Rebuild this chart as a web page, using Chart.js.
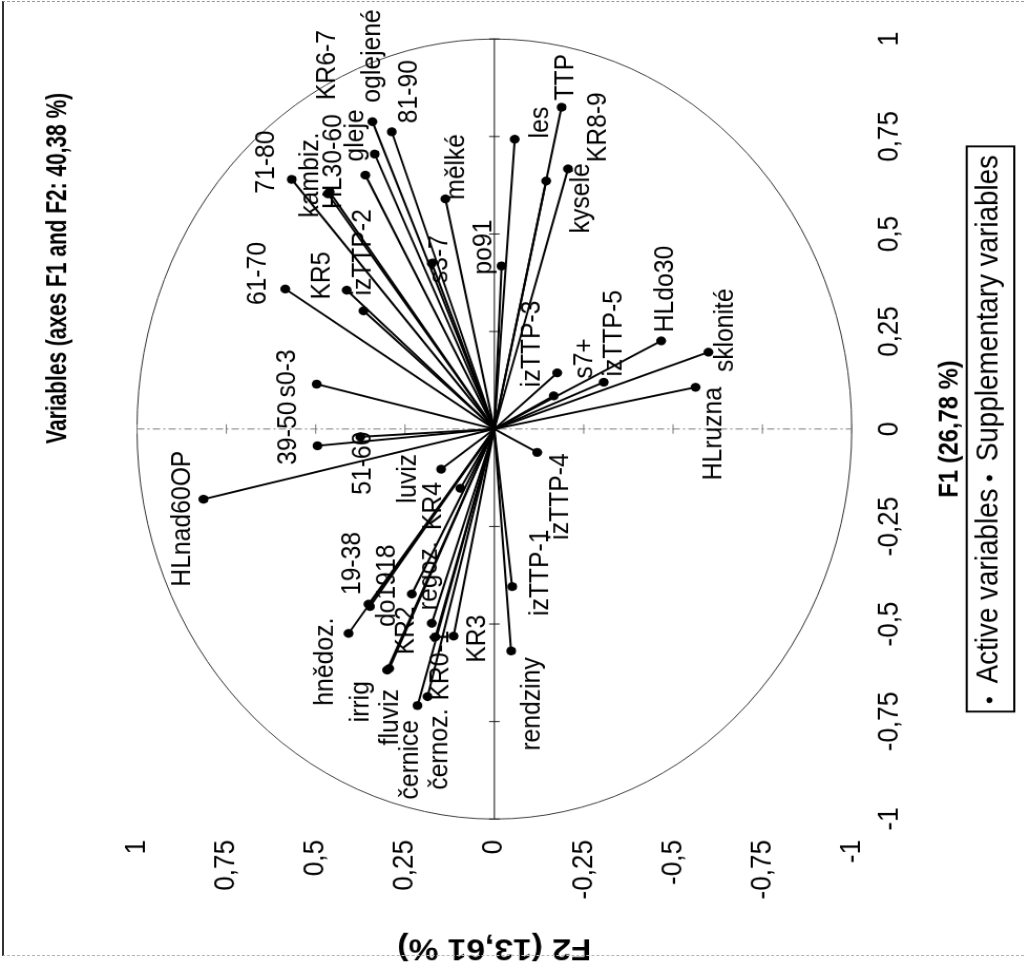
<!DOCTYPE html>
<html>
<head>
<meta charset="utf-8">
<script src="https://cdn.jsdelivr.net/npm/chart.js@4.4.1/dist/chart.umd.min.js"></script>
<style>
  html, body { margin: 0; padding: 0; background: #fff; }
  body { width: 1024px; height: 966px; overflow: hidden; position: relative; }
  /* the correlation circle is laid out landscape-style and turned a quarter turn */
  #turn {
    position: absolute; left: 0; top: 0; width: 1017px; height: 975px;
    transform-origin: 0 0;
    transform: translate(0, 966px) rotate(-90deg) scale(0.95, 1.05);
  }
  #frame {
    position: absolute; left: 2px; top: 1px; width: 1020px; height: 953px;
    border-left: 2px solid #333; border-top: 1px dashed #9a9a9a; border-bottom: 1px dashed #b5b5b5;
    pointer-events: none;
  }
  canvas { display: block; }
</style>
</head>
<body>
<div id="turn"><canvas id="c" width="1017" height="975"></canvas></div>
<div id="frame"></div>
<script>
// Variables and their coordinates on the first two factors
const variables = ['oglejené','81-90','gleje','KR6-7','71-80','HL30-60','kambiz.','61-70','KR5','izTTP-2',
  's3-7','mělké','les','TTP','kyselé','KR8-9','po91','izTTP-3','s7+','izTTP-5',
  'HLdo30','sklonité','HLruzna','s0-3','39-50','51-60','izTTP-4','HLnad60OP','luviz','KR4',
  'regoz.','do1918','19-38','hnědoz.','KR2','KR0-1','KR3','fluviz','irrig','černoz.',
  'černice','izTTP-1','rendziny'];

const f1 = [0.788,0.762,0.705,0.651,0.640,0.608,0.603,0.359,0.356,0.303,
  0.425,0.590,0.743,0.825,0.636,0.667,0.418,0.144,0.085,0.120,
  0.226,0.197,0.107,0.115,-0.043,-0.020,-0.060,-0.180,-0.103,-0.152,
  -0.423,-0.449,-0.455,-0.524,-0.498,-0.533,-0.531,-0.614,-0.618,-0.686,
  -0.709,-0.404,-0.569];

const f2 = [0.341,0.287,0.335,0.361,0.567,0.461,0.466,0.585,0.413,0.366,
  0.175,0.137,-0.057,-0.188,-0.145,-0.206,-0.020,-0.176,-0.166,-0.306,
  -0.467,-0.599,-0.563,0.497,0.495,0.375,-0.120,0.814,0.149,0.095,
  0.231,0.352,0.348,0.408,0.175,0.165,0.114,0.294,0.300,0.187,
  0.215,-0.050,-0.047];

const supplementary = ['izTTP-1','izTTP-2','izTTP-3','izTTP-4','izTTP-5','po91','do1918',
  '19-38','39-50','51-60','61-70','71-80','81-90'];

const axisTicks = [-1, -0.75, -0.5, -0.25, 0, 0.25, 0.5, 0.75, 1];
const legendNames = ['Active variables', 'Supplementary variables'];
const titleText = 'Variables (axes F1 and F2: 40,38 %)';
const f1Title = 'F1 (26,78 %)';
const f2Title = 'F2 (13,61 %)';

// label placement relative to its point: [along F1, along F2] in pixels
const labelNudge = {
  'oglejené':[20,0], '81-90':[9,17], 'gleje':[-8,-18], 'KR6-7':[79,-36], '71-80':[-15,-24],
  'HL30-60':[-18,4], 'kambiz.':[-25,-16], '61-70':[-17,-26], 'KR5':[-10,-23], 'izTTP-2':[16,0],
  's3-7':[-21,8], 'mělké':[-1,11], 'les':[1,25], 'TTP':[7,4], 'kyselé':[-55,34],
  'KR8-9':[7,29], 'po91':[-9,-17], 'izTTP-3':[-15,-24], 's7+':[18,29], 'izTTP-5':[6,10],
  'HLdo30':[9,4], 'sklonité':[-21,16], 'HLruzna':[-98,17], 's0-3':[-14,-28], '39-50':[-20,-28],
  '51-60':[-61,3], 'izTTP-4':[-92,22], 'HLnad60OP':[-92,-20], 'luviz':[-36,-31], 'KR4':[-44,-26],
  'regoz.':[-17,17], 'do1918':[-24,18], '19-38':[12,-17], 'hnědoz.':[-76,-22], 'KR2':[-33,-24],
  'KR0-1':[-67,5], 'KR3':[-28,23], 'fluviz':[-81,1], 'irrig':[-55,-25], 'černoz.':[-98,12],
  'černice':[-99,-7], 'izTTP-1':[-31,27], 'rendziny':[-105,20]
};

const FONT = "'Liberation Sans', Arial, sans-serif";
const fmt = v => String(Math.round(v * 100) / 100).replace('.', ',');

const datasets = variables.map((name, i) => ({
  label: name,
  data: [{ x: 0, y: 0 }, { x: f1[i], y: f2[i] }],
  showLine: true,
  borderColor: '#000',
  borderWidth: 2,
  pointRadius: [0, 4.7],
  pointHoverRadius: [0, 4.7],
  pointBackgroundColor: '#000',
  pointBorderColor: '#000',
  pointBorderWidth: 0,
  group: supplementary.includes(name) ? 'supplementary' : 'active'
}));

// unit circle, zero axes with small tick marks
const circlePlugin = {
  id: 'circle',
  beforeDatasetsDraw(chart) {
    const { ctx, scales: { x, y } } = chart;
    const cx = x.getPixelForValue(0), cy = y.getPixelForValue(0);
    const rx = x.getPixelForValue(1) - cx, ry = cy - y.getPixelForValue(1);
    ctx.save();
    ctx.strokeStyle = '#333';
    ctx.lineWidth = 1;
    ctx.beginPath();
    ctx.ellipse(cx, cy, rx, ry, 0, 0, Math.PI * 2);
    ctx.stroke();

    // F2 = 0 line
    ctx.strokeStyle = '#111';
    ctx.beginPath();
    ctx.moveTo(x.getPixelForValue(-1), cy);
    ctx.lineTo(x.getPixelForValue(1), cy);
    axisTicks.forEach(t => {
      const px = x.getPixelForValue(t);
      ctx.moveTo(px, cy - 5); ctx.lineTo(px, cy + 5);
    });
    ctx.stroke();

    // F1 = 0 line
    ctx.strokeStyle = '#777';
    ctx.setLineDash([7, 3, 2, 3]);
    ctx.beginPath();
    ctx.moveTo(cx, y.getPixelForValue(1));
    ctx.lineTo(cx, y.getPixelForValue(-1));
    ctx.stroke();
    ctx.setLineDash([]);
    ctx.beginPath();
    axisTicks.forEach(t => {
      const py = y.getPixelForValue(t);
      ctx.moveTo(cx - 5, py); ctx.lineTo(cx + 5, py);
    });
    ctx.stroke();
    ctx.restore();
  }
};

// variable names next to their points, title and legend frame
const labelPlugin = {
  id: 'varLabels',
  afterDatasetsDraw(chart) {
    const { ctx } = chart;
    ctx.save();
    ctx.fillStyle = '#000';
    ctx.font = '26px ' + FONT;
    ctx.textAlign = 'left';
    ctx.textBaseline = 'middle';
    chart.data.datasets.forEach((ds, i) => {
      const pt = chart.getDatasetMeta(i).data[1];
      const n = labelNudge[ds.label] || [8, 0];
      ctx.fillText(ds.label, pt.x + n[0], pt.y + n[1]);
    });
    ctx.restore();
  },
  afterDraw(chart) {
    const { ctx, chartArea: a, legend } = chart;
    ctx.save();
    // condensed bold heading
    ctx.fillStyle = '#000';
    ctx.font = 'bold 27.5px ' + FONT;
    ctx.textAlign = 'center';
    ctx.textBaseline = 'middle';
    ctx.translate(a.left + 0.706 * (a.right - a.left), a.top - 75);
    ctx.scale(0.8, 1);
    ctx.fillText(titleText, 0, 0);
    ctx.restore();

    ctx.save();
    const hb = legend.legendHitBoxes;
    if (hb && hb.length) {
      const l = Math.min(...hb.map(h => h.left)) - 9;
      const r = Math.max(...hb.map(h => h.left + h.width)) + 9;
      ctx.strokeStyle = '#000';
      ctx.lineWidth = 2;
      ctx.strokeRect(l, legend.top + 1, r - l, legend.bottom - legend.top - 2);
    }
    ctx.restore();
  }
};

new Chart(document.getElementById('c'), {
  type: 'scatter',
  data: { datasets },
  plugins: [circlePlugin, labelPlugin],
  options: {
    responsive: false,
    animation: false,
    events: [],
    layout: { padding: { top: 130.5, right: 41.2, bottom: 8, left: 0 } },
    scales: {
      x: {
        min: -1, max: 1,
        afterBuildTicks: s => { s.ticks = axisTicks.map(v => ({ value: v })); },
        afterFit: s => { s.height = 108.5; },
        grid: { display: false, drawTicks: false },
        border: { display: false },
        ticks: { padding: 20, autoSkip: false, maxRotation: 0, color: '#000',
          font: { family: FONT, size: 27.5 }, callback: v => fmt(v) },
        title: { display: true, text: f1Title, color: '#000', padding: { top: 0, bottom: 0 },
          font: { family: FONT, size: 25, weight: 'bold' } }
      },
      y: {
        min: -1, max: 1,
        afterBuildTicks: s => { s.ticks = axisTicks.map(v => ({ value: v })); },
        afterFit: s => { s.width = 154.7; },
        grid: { display: false, drawTicks: false },
        border: { display: false },
        ticks: { padding: 22, autoSkip: false, color: '#000',
          font: { family: FONT, size: 27.5 }, callback: v => fmt(v) },
        title: { display: true, text: f2Title, color: '#000', padding: 0,
          font: { family: FONT, size: 32, weight: 'bold' } }
      }
    },
    plugins: {
      tooltip: { enabled: false },
      title: { display: false },
      legend: {
        display: true,
        position: 'bottom',
        fullSize: false,
        labels: {
          color: '#000',
          font: { family: FONT, size: 29.3 },
          usePointStyle: true,
          pointStyle: 'circle',
          boxHeight: 4,
          pointStyleWidth: 6,
          padding: 8,
          generateLabels: () => legendNames.map(t => ({
            text: t, fillStyle: '#000', strokeStyle: '#000', lineWidth: 0,
            pointStyle: 'circle', hidden: false
          }))
        }
      }
    }
  }
});
</script>
</body>
</html>
